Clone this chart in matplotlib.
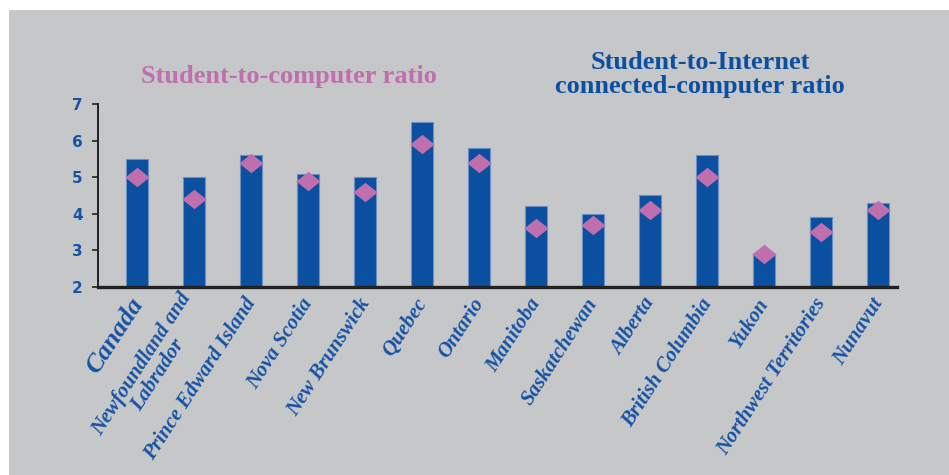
import numpy as np
import matplotlib
matplotlib.use("Agg")
import matplotlib.pyplot as plt
from matplotlib.patches import Rectangle
from matplotlib.path import Path

# Ratios by province / territory
regions = ["Canada", "Newfoundland and\nLabrador", "Prince Edward Island", "Nova Scotia",
           "New Brunswick", "Quebec", "Ontario", "Manitoba", "Saskatchewan", "Alberta",
           "British Columbia", "Yukon", "Northwest Territories", "Nunavut"]
internet_ratio = [5.5, 5.0, 5.6, 5.1, 5.0, 6.5, 5.8, 4.2, 4.0, 4.5, 5.6, 2.9, 3.9, 4.3]
computer_ratio = [5.0, 4.4, 5.4, 4.9, 4.6, 5.9, 5.4, 3.6, 3.7, 4.1, 5.0, 2.9, 3.5, 4.1]
yticks = [2, 3, 4, 5, 6, 7]

BLUE = "#0b4fa1"
PINK = "#bf6fae"
GRAY = "#c6c7c9"
LABEL_BLUE = "#1553a5"

fig = plt.figure(figsize=(9.49, 4.75), dpi=100, facecolor="white")
fig.patches.append(Rectangle((9 / 949, 0), 1, 1 - 10 / 475, transform=fig.transFigure,
                             facecolor=GRAY, edgecolor="none", zorder=-10))

ax = fig.add_axes([98 / 949, 1 - 287 / 475, (897 - 98) / 949, (287 - 104) / 475])
ax.set_facecolor("none")

x = np.arange(len(regions))
ax.bar(x, internet_ratio, width=0.385, bottom=0, color=BLUE, edgecolor="#6b8fc4",
       linewidth=0.8, zorder=2)

# wide diamond marker
diamond = Path([(-1, 0), (0, 0.8), (1, 0), (0, -0.8), (-1, 0)],
               [Path.MOVETO, Path.LINETO, Path.LINETO, Path.LINETO, Path.CLOSEPOLY])
ax.plot(x, computer_ratio, linestyle="none", marker=diamond, markersize=17.5,
        color=PINK, markeredgewidth=0, zorder=3)

ax.set_xlim(-0.679, 13.333)
ax.set_ylim(2, 7)
ax.set_yticks(yticks)
ax.set_yticklabels([str(t) for t in yticks], fontsize=11, fontweight="bold",
                   color=LABEL_BLUE, family="DejaVu Sans")
ax.tick_params(axis="y", direction="out", length=4, width=1.2, color="#222222", pad=7)
ax.set_xticks([])

for side in ["top", "right"]:
    ax.spines[side].set_visible(False)
ax.spines["left"].set_linewidth(1.4)
ax.spines["left"].set_color("#222222")
ax.spines["bottom"].set_linewidth(2.4)
ax.spines["bottom"].set_color("#222222")
ax.spines["bottom"].set_zorder(4)

# rotated region names under each bar
for i, name in enumerate(regions):
    size = 19 if name == "Canada" else 15
    ax.annotate(name, xy=(i, 2), xycoords="data", xytext=(1, -13),
                textcoords="offset pixels", rotation=57, rotation_mode="anchor",
                ha="right", va="center", multialignment="center",
                fontsize=size, fontweight="bold", fontstyle="italic",
                family="Liberation Serif", color=LABEL_BLUE, linespacing=0.95)

fig.text(289 / 949, 1 - 83 / 475, "Student-to-computer ratio", ha="center",
         va="baseline", fontsize=19, fontweight="bold", family="Liberation Serif",
         color=PINK)
fig.text(700 / 949, 1 - 93 / 475, "Student-to-Internet\nconnected-computer ratio",
         ha="center", va="baseline", fontsize=19, fontweight="bold",
         family="Liberation Serif", color=BLUE, linespacing=1.05)

fig.savefig("out.png", dpi=100, facecolor="white")
